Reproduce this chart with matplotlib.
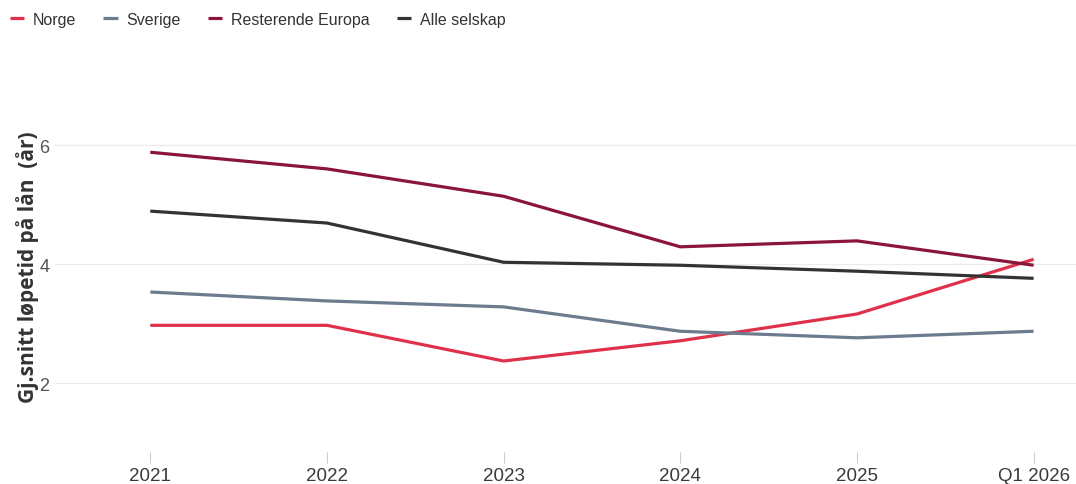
import numpy as np
import matplotlib.pyplot as plt

plt.rcParams['font.family'] = ['Liberation Sans', 'DejaVu Sans']

perioder = ["2021", "2022", "2023", "2024", "2025", "Q1 2026"]
norge = [2.97, 2.97, 2.37, 2.71, 3.16, 4.08]
sverige = [3.53, 3.38, 3.28, 2.87, 2.76, 2.87]
resterende_europa = [5.88, 5.60, 5.14, 4.29, 4.39, 3.98]
alle_selskap = [4.89, 4.69, 4.03, 3.98, 3.88, 3.76]

serier = [
    ("Norge", norge, "#e0314b"),
    ("Sverige", sverige, "#6c7b8e"),
    ("Resterende Europa", resterende_europa, "#8a1538"),
    ("Alle selskap", alle_selskap, "#333333"),
]

fig = plt.figure(figsize=(10.76, 4.85), dpi=100)
ax = fig.add_axes([0.051, 0.066, 0.949, 0.748])

x = np.arange(len(perioder))
for navn, verdier, farge in serier:
    ax.plot(x, verdier, color=farge, lw=2.3, label=navn, solid_capstyle='butt')

ax.set_xlim(-0.54, 5.24)
ax.set_ylim(0.84, 6.94)
ax.set_yticks([2, 4, 6])
ax.set_xticks(x)
ax.set_xticklabels(perioder)
ax.grid(axis='y', color='#ebebeb', lw=0.9)
ax.set_axisbelow(True)
for s in ax.spines.values():
    s.set_visible(False)
ax.tick_params(axis='y', length=0, labelsize=13, labelcolor='#555555', pad=4)
ax.tick_params(axis='x', length=8, width=0.8, color='#cccccc', labelsize=13.5,
               labelcolor='#3a3a3a', pad=3)

fig.text(0.026, 0.45, "Gj.snitt løpetid på lån  (år)", rotation=90,
         ha='center', va='center', fontsize=15, fontweight='bold',
         color='#333333', family=['Open Sans', 'DejaVu Sans'])

fig.legend(loc='upper left', bbox_to_anchor=(-0.003, 1.0), ncol=4, frameon=False,
           fontsize=11.5, handlelength=0.9, handletextpad=0.55, columnspacing=1.7,
           labelcolor='#333333', borderaxespad=0.4)

fig.savefig("out.png", dpi=100)
